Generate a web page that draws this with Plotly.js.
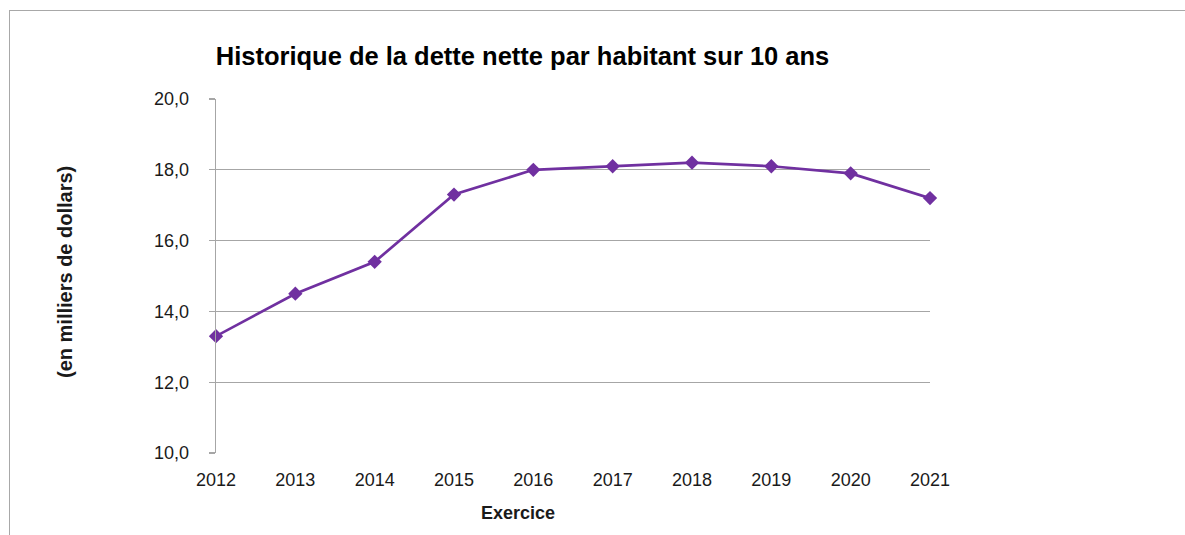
<!DOCTYPE html>
<html>
<head>
<meta charset="utf-8">
<script src="https://cdn.plot.ly/plotly-3.0.1.min.js"></script>
<style>
html,body{margin:0;padding:0;background:#fff;}
#wrap{position:relative;width:1185px;height:535px;overflow:hidden;}
#chart{position:absolute;left:0;top:0;width:1185px;height:535px;}
#frame{position:absolute;left:9px;top:10px;width:1200px;height:560px;border-left:1.5px solid #a8a8a8;border-top:1.5px solid #a8a8a8;pointer-events:none;}
</style>
</head>
<body>
<div id="wrap"><div id="chart"></div><div id="frame"></div></div>
<script>
const years = ["2012","2013","2014","2015","2016","2017","2018","2019","2020","2021"];
const detteParHabitant = [13.3, 14.5, 15.4, 17.3, 18.0, 18.1, 18.2, 18.1, 17.9, 17.2];
const yTicks = [10, 12, 14, 16, 18, 20];
const chartTitle = "Historique de la dette nette par habitant sur 10 ans";
const xTitle = "Exercice";
const yTitle = "(en milliers de dollars)";

const FONT = "Liberation Sans, Arial, sans-serif";
const W = 1185, H = 535;
const M = {l: 216, r: 255, t: 99, b: 82};
const pw = W - M.l - M.r, ph = H - M.t - M.b;
// helpers to convert page pixels to paper coords (for text placement only)
const px = v => (v - M.l) / pw;
const py = v => (H - M.b - v) / ph;

const trace = {
  x: years,
  y: detteParHabitant,
  type: "scatter",
  mode: "lines+markers",
  line: {color: "#7030A0", width: 2.7},
  marker: {symbol: "diamond", size: 11, color: "#7030A0"},
  cliponaxis: false,
  hoverinfo: "x+y"
};

const layout = {
  width: W, height: H,
  margin: M,
  paper_bgcolor: "#ffffff",
  plot_bgcolor: "#ffffff",
  separators: ", ",
  showlegend: false,
  font: {family: FONT, color: "#1a1a1a", size: 18},
  title: {
    text: "<b>" + chartTitle + "</b>",
    font: {family: FONT, size: 25.5, color: "#000"},
    x: 522.5/W, xanchor: "center", xref: "container",
    y: 1 - 56/H, yanchor: "middle", yref: "container"
  },
  xaxis: {
    type: "category",
    range: [0, years.length - 1],
    showgrid: false,
    zeroline: false,
    showline: false,
    ticks: "",
    ticklabelstandoff: 14,
    tickfont: {family: FONT, size: 18, color: "#1a1a1a"}
  },
  yaxis: {
    range: [10, 20],
    tickvals: yTicks,
    tickformat: ".1f",
    showgrid: true,
    gridcolor: "#a6a6a6",
    gridwidth: 1.3,
    zeroline: false,
    showline: true,
    linecolor: "#a6a6a6",
    linewidth: 1.3,
    ticks: "outside",
    ticklen: 6,
    tickcolor: "#a6a6a6",
    tickwidth: 1.3,
    ticklabelstandoff: 16,
    tickfont: {family: FONT, size: 18, color: "#1a1a1a"}
  },
  annotations: [
    {
      text: "<b>" + xTitle + "</b>",
      xref: "paper", yref: "paper",
      x: px(518), y: py(513),
      xanchor: "center", yanchor: "middle",
      showarrow: false,
      font: {family: FONT, size: 18, color: "#1a1a1a"}
    },
    {
      text: "<b>" + yTitle + "</b>",
      xref: "paper", yref: "paper",
      x: px(65), y: py(272),
      xanchor: "center", yanchor: "middle",
      textangle: -90,
      showarrow: false,
      font: {family: FONT, size: 20, color: "#1a1a1a"}
    }
  ]
};

Plotly.newPlot("chart", [trace], layout, {displayModeBar: false, staticPlot: true});
</script>
</body>
</html>
